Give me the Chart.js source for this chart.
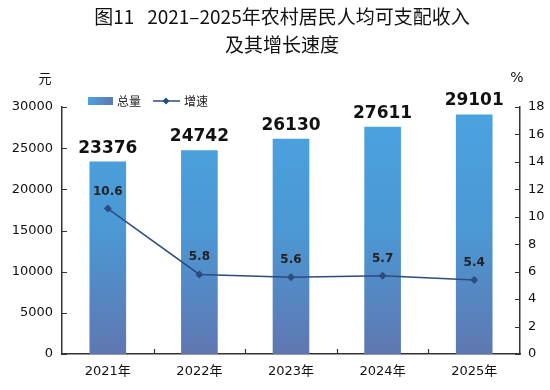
<!DOCTYPE html>
<html>
<head>
<meta charset="utf-8">
<script src="https://cdn.jsdelivr.net/npm/chart.js@4/dist/chart.umd.min.js"></script>
<style>
  html, body { margin: 0; padding: 0; background: #fff; }
  #wrap { width: 550px; height: 390px; }
</style>
</head>
<body>
<div id="wrap"><canvas id="chart" width="550" height="390"></canvas></div>
<script>
const years = ['2021年', '2022年', '2023年', '2024年', '2025年'];
const income = [23376, 24742, 26130, 27611, 29101];
const growth = [10.6, 5.8, 5.6, 5.7, 5.4];
const titleLines = ['图11   2021\u20132025年农村居民人均可支配收入', '及其增长速度'];

const FONT = '"DejaVu Sans", "Noto Sans CJK SC", sans-serif';
const CJK = '"Noto Sans CJK SC", sans-serif';
const lineColor = '#2c4c80';
const axisColor = '#333';

function barGradient(ctx) {
    const area = ctx.chart.chartArea;
    if (!area) return '#4a9fdc';
    const g = ctx.chart.ctx.createLinearGradient(0, area.top, 0, area.bottom);
    g.addColorStop(0, '#4aa3e0');
    g.addColorStop(0.5, '#4b98d4');
    g.addColorStop(1, '#5f77b1');
    return g;
}

// 标题、单位、图例、刻度线、数据标签
const decor = {
    id: 'decor',
    afterDraw(chart) {
        const ctx = chart.ctx;
        const area = chart.chartArea;
        ctx.save();

        // inward tick marks
        ctx.strokeStyle = axisColor;
        ctx.lineWidth = 1.2;
        ctx.beginPath();
        const y = chart.scales.y, y1 = chart.scales.y1, x = chart.scales.x;
        y.ticks.forEach(t => {
            const py = Math.round(y.getPixelForValue(t.value)) + 0.5;
            ctx.moveTo(area.left, py); ctx.lineTo(area.left + 5, py);
        });
        y1.ticks.forEach(t => {
            const py = Math.round(y1.getPixelForValue(t.value)) + 0.5;
            ctx.moveTo(area.right, py); ctx.lineTo(area.right - 5, py);
        });
        for (let i = 1; i < years.length; i++) {
            const px = Math.round((x.getPixelForValue(i - 1) + x.getPixelForValue(i)) / 2) + 0.5;
            ctx.moveTo(px, area.bottom); ctx.lineTo(px, area.bottom - 5);
        }
        ctx.stroke();

        ctx.fillStyle = '#111';
        ctx.textAlign = 'center';
        ctx.textBaseline = 'middle';
        ctx.font = '19px ' + CJK;
        ctx.fillText(titleLines[0], 282, 17);
        ctx.fillText(titleLines[1], 282, 45);

        ctx.font = '13px ' + CJK;
        ctx.fillText('元', 45, 78);
        ctx.font = '14px ' + FONT;
        ctx.fillText('%', 517, 78);

        // legend
        const lg = ctx.createLinearGradient(88, 0, 113, 0);
        lg.addColorStop(0, '#4aa3e0');
        lg.addColorStop(1, '#5f77b1');
        ctx.fillStyle = lg;
        ctx.fillRect(88, 97, 25, 8);
        ctx.fillStyle = '#222';
        ctx.textAlign = 'left';
        ctx.font = '12px ' + CJK;
        ctx.fillText('总量', 117, 101);
        ctx.strokeStyle = lineColor;
        ctx.lineWidth = 1.5;
        ctx.beginPath();
        ctx.moveTo(153, 101);
        ctx.lineTo(180, 101);
        ctx.stroke();
        ctx.fillStyle = lineColor;
        ctx.beginPath();
        ctx.moveTo(166, 97.5); ctx.lineTo(169.5, 101); ctx.lineTo(166, 104.5); ctx.lineTo(162.5, 101);
        ctx.closePath();
        ctx.fill();
        ctx.fillStyle = '#222';
        ctx.fillText('增速', 184, 101);

        // bar labels
        ctx.textAlign = 'center';
        ctx.textBaseline = 'alphabetic';
        ctx.fillStyle = '#111';
        ctx.font = 'bold 17px ' + FONT;
        chart.getDatasetMeta(1).data.forEach((bar, i) => {
            ctx.fillText(String(income[i]), bar.x, bar.y - 9);
        });
        // line labels
        ctx.font = 'bold 12px ' + FONT;
        ctx.fillStyle = '#222';
        chart.getDatasetMeta(0).data.forEach((pt, i) => {
            ctx.fillText(growth[i].toFixed(1), pt.x, pt.y - 14);
        });
        ctx.restore();
    }
};

new Chart(document.getElementById('chart'), {
    data: {
        labels: years,
        datasets: [
            {
                type: 'line',
                label: '增速',
                data: growth,
                yAxisID: 'y1',
                borderColor: lineColor,
                backgroundColor: lineColor,
                borderWidth: 1.5,
                pointStyle: 'rectRot',
                pointRadius: 4,
                pointBackgroundColor: lineColor,
                pointBorderWidth: 0,
                tension: 0,
                order: 0,
            },
            {
                type: 'bar',
                label: '总量',
                data: income,
                yAxisID: 'y',
                backgroundColor: barGradient,
                barPercentage: 0.4,
                categoryPercentage: 1.0,
                order: 1,
            },
        ]
    },
    options: {
        responsive: false,
        animation: false,
        layout: { padding: { top: 107, left: 0, right: 0, bottom: 0 } },
        plugins: {
            legend: { display: false },
            title: { display: false },
            tooltip: { enabled: false },
        },
        scales: {
            x: {
                offset: true,
                grid: { display: false, drawTicks: false },
                border: { color: axisColor, width: 1.5 },
                ticks: { color: '#111', font: { size: 13, family: FONT }, padding: 10 },
                afterFit(s) { s.height = 36; },
            },
            y: {
                position: 'left',
                min: 0,
                max: 30000,
                ticks: {
                    stepSize: 5000, color: '#111', font: { size: 13, family: FONT }, padding: 9,
                    callback: v => String(v),
                },
                grid: { display: false, drawTicks: false },
                border: { color: axisColor, width: 1.5 },
                afterFit(s) { s.width = 62; },
            },
            y1: {
                position: 'right',
                min: 0,
                max: 18,
                ticks: { stepSize: 2, color: '#111', font: { size: 13, family: FONT }, padding: 8 },
                grid: { display: false, drawTicks: false },
                border: { color: axisColor, width: 1.5 },
                afterFit(s) { s.width = 30; },
            },
        }
    },
    plugins: [decor]
});
</script>
</body>
</html>
